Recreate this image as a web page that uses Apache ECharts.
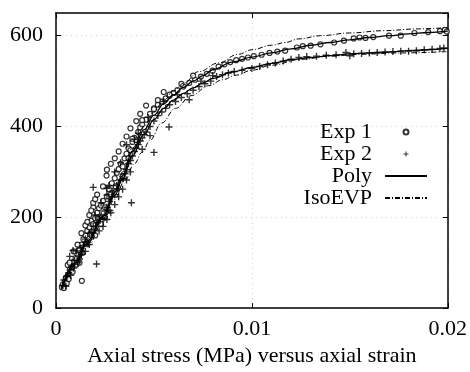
<!DOCTYPE html>
<html>
<head>
<meta charset="utf-8">
<script src="https://cdn.jsdelivr.net/npm/echarts@6/dist/echarts.min.js"></script>
<style>
html,body{margin:0;padding:0;background:#fff;}
#chart{width:470px;height:372px;}
</style>
</head>
<body>
<div id="chart"></div>
<script>
// ---- data (strain, stress) ----
var seriesNames = ['Exp 1', 'Exp 2', 'Poly', 'IsoEVP'];
var xTicks = [0, 0.01, 0.02];
var yTicks = [0, 200, 400, 600];

var exp1 = [
  [0.00030,46],[0.00035,52],[0.00040,44],[0.00045,58],[0.00050,66],[0.00055,55],[0.00060,72],[0.00065,64],
  [0.00070,84],[0.00080,90],[0.00085,80],[0.00090,102],[0.00100,110],[0.00105,96],[0.00110,118],[0.00120,128],
  [0.00132,60],[0.00130,140],[0.00135,122],[0.00140,152],[0.00150,160],[0.00155,142],[0.00160,170],[0.00170,178],
  [0.00175,162],[0.00180,192],[0.00190,185],[0.00200,198],[0.00210,210],[0.00215,196],[0.00220,220],[0.00230,226],
  [0.00240,236],[0.00250,222],[0.00258,292],[0.00260,246],[0.00270,262],[0.00280,250],[0.00285,275],[0.00300,286],
  [0.00305,268],[0.00310,298],[0.00320,306],[0.00330,318],[0.00340,312],[0.00350,330],[0.00360,340],[0.00370,352],
  [0.00380,348],[0.00390,366],[0.00400,375],[0.00410,370],[0.00420,388],[0.00430,398],[0.00440,405],[0.00460,415],
  [0.00480,428],[0.00500,440],[0.00520,448],[0.00540,455],[0.00560,462],[0.00580,468],[0.00600,474],[0.00620,480],
  [0.00650,488],[0.00680,496],[0.00710,503],[0.00740,510],[0.00770,516],[0.00800,523],[0.00830,532],[0.00860,537],
  [0.00890,542],[0.00920,546],[0.00950,549],[0.00980,552],[0.01010,555],[0.01050,558],[0.01090,562],[0.01130,565],
  [0.01170,567],[0.01230,574],[0.01260,577],[0.01300,578],[0.01350,581],[0.01420,585],[0.01470,589],[0.01520,594],
  [0.01550,596],[0.01580,595],[0.01620,597],[0.01700,600],[0.01760,600],[0.01830,606],[0.01900,608],[0.01960,610],
  [0.01985,613],[0.01995,609],
  [0.00060,95],[0.00070,100],[0.00090,125],[0.00110,140],[0.00130,165],[0.00150,182],[0.00160,190],[0.00190,222],
  [0.00170,205],[0.00180,215],[0.00190,232],[0.00200,240],[0.00210,250],[0.00240,268],[0.00260,305],[0.00280,318],
  [0.00300,330],[0.00320,345],[0.00340,362],[0.00360,378],[0.00390,373],[0.00380,396],[0.00410,412],[0.00440,414],
  [0.00430,428],[0.00500,438],[0.00460,446],[0.00520,458],[0.00580,470],[0.00550,476],[0.00640,494],[0.00700,512],
  [0.00250,200],[0.00230,185],[0.00200,160],[0.00120,100],[0.00340,290],[0.00370,330]
];

var exp2 = [
  [0.00035,50],[0.00040,62],[0.00050,48],[0.00055,70],[0.00065,78],[0.00075,72],[0.00080,92],[0.00090,88],
  [0.00095,105],[0.00105,126],[0.00110,100],[0.00115,115],[0.00125,132],[0.00130,118],[0.00140,138],[0.00150,152],
  [0.00160,145],[0.00170,165],[0.00180,168],[0.00190,180],[0.00200,172],[0.00207,97],[0.00210,188],[0.00220,196],
  [0.00230,205],[0.00240,198],[0.00250,214],[0.00260,222],[0.00270,235],[0.00275,215],[0.00285,245],[0.00290,258],
  [0.00300,250],[0.00310,270],[0.00320,262],[0.00330,282],[0.00340,285],[0.00350,296],[0.00360,305],[0.00370,318],
  [0.00385,232],[0.00380,325],[0.00390,335],[0.00400,345],[0.00410,352],[0.00420,360],[0.00430,368],[0.00440,375],
  [0.00450,382],[0.00460,388],[0.00480,400],[0.00500,343],[0.00500,412],[0.00520,424],[0.00540,432],[0.00560,440],
  [0.00577,399],[0.00580,448],[0.00610,455],[0.00640,464],[0.00670,472],[0.00680,459],[0.00700,480],[0.00730,488],
  [0.00760,494],[0.00790,500],[0.00820,510],[0.00850,514],[0.00880,518],[0.00910,521],[0.00950,524],[0.01000,528],
  [0.01040,532],[0.01080,536],[0.01120,540],[0.01160,544],[0.01200,548],[0.01240,552],[0.01280,554],[0.01330,555],
  [0.01380,557],[0.01430,558],[0.01480,563],[0.01500,556],[0.01520,560],[0.01560,561],[0.01600,562],[0.01640,563],
  [0.01680,564],[0.01720,565],[0.01760,566],[0.01800,566],[0.01840,567],[0.01880,569],[0.01920,570],[0.01960,572],
  [0.01980,573],
  [0.00070,114],[0.00087,127],[0.00190,266],[0.00260,264],[0.00270,270],[0.00360,360],[0.00260,249],[0.00220,170],
  [0.00240,180],[0.00260,195],[0.00280,210],[0.00300,228],[0.00320,245],[0.00340,262],[0.00360,282],[0.00380,300],
  [0.00150,125],[0.00120,108],[0.00170,140],[0.00200,205],[0.00230,232],[0.00300,300],[0.00330,320],[0.00400,372],
  [0.00420,385],[0.00470,420],[0.00550,455],[0.00620,470],[0.00740,500],[0.00800,512],[0.00440,350],[0.00480,380]
];

var polyUpper = [
  [0.0003,45],[0.001,100],[0.0016,148],[0.0024,202],[0.003,255],[0.0034,292],[0.0039,345],[0.0045,393],
  [0.005,425],[0.0055,450],[0.006,470],[0.0065,486],[0.007,500],[0.0075,512],[0.008,525],[0.009,542],
  [0.01,553],[0.011,562],[0.012,571],[0.013,579],[0.014,585],[0.015,591],[0.016,596],[0.017,600],
  [0.018,604],[0.019,607],[0.02,610]
];
var polyLower = [
  [0.0003,44],[0.001,96],[0.0016,143],[0.0024,197],[0.003,248],[0.0034,285],[0.0039,335],[0.0045,383],
  [0.005,415],[0.0055,440],[0.006,458],[0.0065,473],[0.007,485],[0.0075,496],[0.008,506],[0.009,520],
  [0.01,530],[0.011,539],[0.012,547],[0.013,552],[0.014,556],[0.015,560],[0.016,562],[0.017,564],
  [0.018,567],[0.019,569],[0.02,572]
];
var isoUpper = [
  [0.0003,48],[0.001,104],[0.0016,153],[0.0024,208],[0.003,262],[0.0034,300],[0.0039,352],[0.0045,400],
  [0.005,432],[0.0055,458],[0.006,478],[0.0065,495],[0.0073,521],[0.0083,540],[0.0093,559],[0.01,569],
  [0.011,579],[0.0117,585],[0.0124,593],[0.0135,600],[0.015,606],[0.0167,611],[0.0185,615],[0.02,618]
];
var isoLower = [
  [0.0003,42],[0.001,88],[0.0016,135],[0.0024,190],[0.003,240],[0.0035,280],[0.004,318],[0.0044,343],
  [0.0048,370],[0.0054,408],[0.0061,440],[0.0069,468],[0.0078,490],[0.0085,503],[0.0092,513],[0.01,524],
  [0.011,535],[0.0125,548],[0.014,555],[0.0155,559],[0.0175,562],[0.02,565]
];

// ---- chart ----
var FONT = "'Liberation Serif', 'DejaVu Serif', serif";
var plusPath = 'path://M2,0h1v2h2v1h-2v2h-1v-2h-2v-1h2z';
var chart = echarts.init(document.getElementById('chart'), null, {renderer: 'canvas'});

var axisLineStyle = {show: true, onZero: false, lineStyle: {color: '#000', width: 1.5}};
var tickStyle = {show: true, inside: true, length: 5, lineStyle: {color: '#000', width: 1}};
var gridStyle = {show: true, lineStyle: {color: '#d4d4d4', type: [1, 4], width: 1}};

function lineSeries(name, data, type, width) {
  return {
    name: name, type: 'line', data: data, symbol: 'none', showSymbol: false,
    smooth: 0.4, smoothMonotone: 'x', silent: true, z: 5,
    itemStyle: {color: '#000', opacity: 0},
    lineStyle: {color: '#000', width: width, type: type}
  };
}

chart.setOption({
  animation: false,
  backgroundColor: '#fff',
  grid: {left: 56, top: 13, width: 395, height: 303, containLabel: false},
  legend: {
    data: [
      {name: seriesNames[0]},
      {name: seriesNames[1]},
      {name: seriesNames[2], itemStyle: {opacity: 0}},
      {name: seriesNames[3], itemStyle: {opacity: 0}}
    ],
    orient: 'vertical',
    right: 37,
    top: 116,
    align: 'right',
    itemWidth: 42,
    itemHeight: 5,
    itemGap: 0,
    selectedMode: false,
    textStyle: {fontFamily: FONT, fontSize: 22, color: '#000', lineHeight: 22, padding: [0, 8, 0, 0]}
  },
  xAxis: [{
    type: 'value', min: xTicks[0], max: xTicks[2], interval: xTicks[1] - xTicks[0],
    name: 'Axial stress (MPa) versus axial strain',
    nameLocation: 'middle', nameGap: 36,
    nameTextStyle: {fontFamily: FONT, fontSize: 22, color: '#000'},
    axisLine: axisLineStyle, axisTick: tickStyle, splitLine: gridStyle,
    axisLabel: {fontFamily: FONT, fontSize: 22, color: '#000', margin: 10,
      formatter: function (v) { return String(+v.toFixed(4)); }}
  }, {
    type: 'value', position: 'top', min: xTicks[0], max: xTicks[2], interval: xTicks[1] - xTicks[0],
    axisLine: axisLineStyle, axisTick: tickStyle, splitLine: {show: false}, axisLabel: {show: false}
  }],
  yAxis: [{
    type: 'value', min: yTicks[0], max: 650, interval: yTicks[1] - yTicks[0],
    axisLine: axisLineStyle, axisTick: tickStyle, splitLine: gridStyle,
    axisLabel: {fontFamily: FONT, fontSize: 22, color: '#000', margin: 13, showMaxLabel: false,
      padding: [4, 0, 0, 0]}
  }, {
    type: 'value', position: 'right', min: yTicks[0], max: 650, interval: yTicks[1] - yTicks[0],
    axisLine: axisLineStyle, axisTick: tickStyle, splitLine: {show: false}, axisLabel: {show: false}
  }],
  series: [
    {
      name: 'Exp 1', type: 'scatter', data: exp1, symbol: 'circle', symbolSize: 5, silent: true, z: 3,
      itemStyle: {color: '#fff', borderColor: '#000', borderWidth: 1.2}
    },
    {
      name: 'Exp 2', type: 'scatter', data: exp2, symbol: plusPath, symbolSize: 7, silent: true, z: 3,
      itemStyle: {color: '#000'}
    },
    lineSeries('Poly', polyUpper, 'solid', 1.3),
    lineSeries('Poly', polyLower, 'solid', 1.3),
    lineSeries('IsoEVP', isoUpper, [5, 2, 1, 2], 1),
    lineSeries('IsoEVP', isoLower, [5, 2, 1, 2], 1)
  ]
});
</script>
</body>
</html>
